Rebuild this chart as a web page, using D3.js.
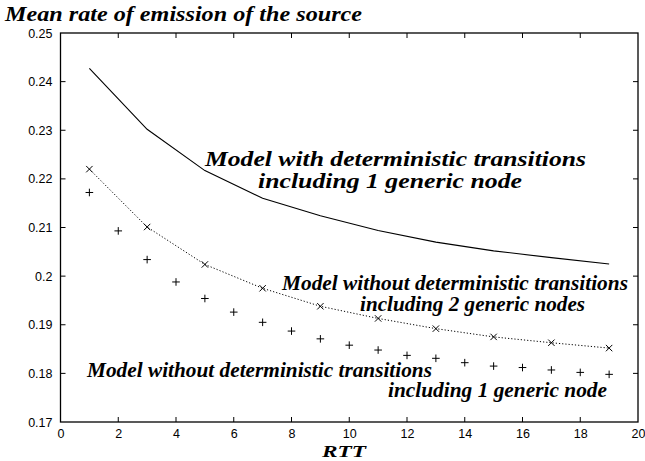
<!DOCTYPE html>
<html><head><meta charset="utf-8">
<script src="https://cdn.jsdelivr.net/npm/d3@7"></script>
<style>body{margin:0;background:#fff}svg{display:block}</style>
</head><body>
<svg id="c" width="645" height="461"></svg>
<script>
const xTicks = [0,2,4,6,8,10,12,14,16,18,20];
const yTicks = [0.17,0.18,0.19,0.2,0.21,0.22,0.23,0.24,0.25];
const xOdd = [1,3,5,7,9,11,13,15,17,19];
const detOne = [0.2427,0.2302,0.2217,0.2160,0.2124,0.2094,0.2070,0.2052,0.2038,0.2025];
const nodetTwo = [0.2220,0.2101,0.2024,0.1975,0.1938,0.1913,0.1892,0.1875,0.1863,0.1852];
const xAll = [1,2,3,4,5,6,7,8,9,10,11,12,13,14,15,16,17,18,19];
const nodetOne = [0.2172,0.2093,0.2034,0.1988,0.1954,0.1926,0.1905,0.1887,0.1871,0.1858,0.1848,0.1837,0.1831,0.1822,0.1815,0.1812,0.1807,0.1802,0.1798];
const titleText = "Mean rate of emission of the source";
const xLabel = "RTT";
const labels = [
  "Model with deterministic transitions", "including 1 generic node",
  "Model without deterministic transitions", "including 2 generic nodes",
  "Model without deterministic transitions", "including 1 generic node"
];

const svg = d3.select("#c");
const L=60.5, R=638, T=33, B=422;
const x = d3.scaleLinear().domain([0,20]).range([L,R]);
const y = d3.scaleLinear().domain([0.17,0.25]).range([B,T]);
const fmt = d => d===0.2 ? "0.2" : (d3.format(".2f")(d));
const tickFont = "'Liberation Sans', Arial, sans-serif";
const serif = "'Liberation Serif', 'Times New Roman', serif";

// axes
const gx = svg.append("g").attr("transform",`translate(0,${B})`)
  .call(d3.axisBottom(x).tickValues(xTicks).tickSize(0).tickPadding(7).tickFormat(d3.format("d")));
const gy = svg.append("g").attr("transform",`translate(${L},0)`)
  .call(d3.axisLeft(y).tickValues(yTicks).tickSize(0).tickPadding(8).tickFormat(fmt));
[gx,gy].forEach(g=>{g.select(".domain").remove();
  g.selectAll("text").attr("font-family",tickFont).attr("font-size",12.5).attr("fill","#000");});

// inner ticks
const tl=5;
const xi = xTicks.slice(1,-1), yi = yTicks.slice(1,-1);
svg.append("g").selectAll("line").data(xi).join("line")
  .attr("x1",d=>x(d)).attr("x2",d=>x(d)).attr("y1",B).attr("y2",B-tl).attr("stroke","#000");
svg.append("g").selectAll("line").data(xi).join("line")
  .attr("x1",d=>x(d)).attr("x2",d=>x(d)).attr("y1",T).attr("y2",T+tl).attr("stroke","#000");
svg.append("g").selectAll("line").data(yi).join("line")
  .attr("y1",d=>y(d)).attr("y2",d=>y(d)).attr("x1",L).attr("x2",L+tl).attr("stroke","#000");
svg.append("g").selectAll("line").data(yi).join("line")
  .attr("y1",d=>y(d)).attr("y2",d=>y(d)).attr("x1",R).attr("x2",R-tl).attr("stroke","#000");
svg.append("rect").attr("x",L).attr("y",T).attr("width",R-L).attr("height",B-T)
  .attr("fill","none").attr("stroke","#000").attr("stroke-width",1.3);

// series
const line = d3.line().x(d=>x(d[0])).y(d=>y(d[1]));
svg.append("path").datum(xOdd.map((v,i)=>[v,detOne[i]])).attr("d",line)
  .attr("fill","none").attr("stroke","#000").attr("stroke-width",1.1);
svg.append("path").datum(xOdd.map((v,i)=>[v,nodetTwo[i]])).attr("d",line)
  .attr("fill","none").attr("stroke","#000").attr("stroke-width",1).attr("stroke-dasharray","1.2,2");
const s=3.2;
svg.append("g").selectAll("path").data(xOdd.map((v,i)=>[v,nodetTwo[i]])).join("path")
  .attr("d",d=>{const cx=x(d[0]),cy=y(d[1]);return `M${cx-s},${cy-s}L${cx+s},${cy+s}M${cx-s},${cy+s}L${cx+s},${cy-s}`;})
  .attr("stroke","#000").attr("stroke-width",1);
const p=3.8;
svg.append("g").selectAll("path").data(xAll.map((v,i)=>[v,nodetOne[i]])).join("path")
  .attr("d",d=>{const cx=x(d[0]),cy=y(d[1]);return `M${cx-p},${cy}L${cx+p},${cy}M${cx},${cy-p}L${cx},${cy+p}`;})
  .attr("stroke","#000").attr("stroke-width",1);

// text
function label(txt,xx,yy,len,size){
  svg.append("text").attr("x",xx).attr("y",yy).attr("text-anchor","start")
    .attr("font-family",serif).attr("font-weight","bold").attr("font-style","italic")
    .attr("font-size",size).attr("fill","#000")
    .attr("textLength",len).attr("lengthAdjust","spacingAndGlyphs").text(txt);
}
label(titleText,5,21,357,21);
label(xLabel,322,456.5,44,17);
label(labels[0],205,166,381,20);
label(labels[1],258,188,264,20);
label(labels[2],282,290,346,20);
label(labels[3],360,311,225,20);
label(labels[4],87,376.5,345,20);
label(labels[5],388,397,219,20);
</script>
</body></html>
